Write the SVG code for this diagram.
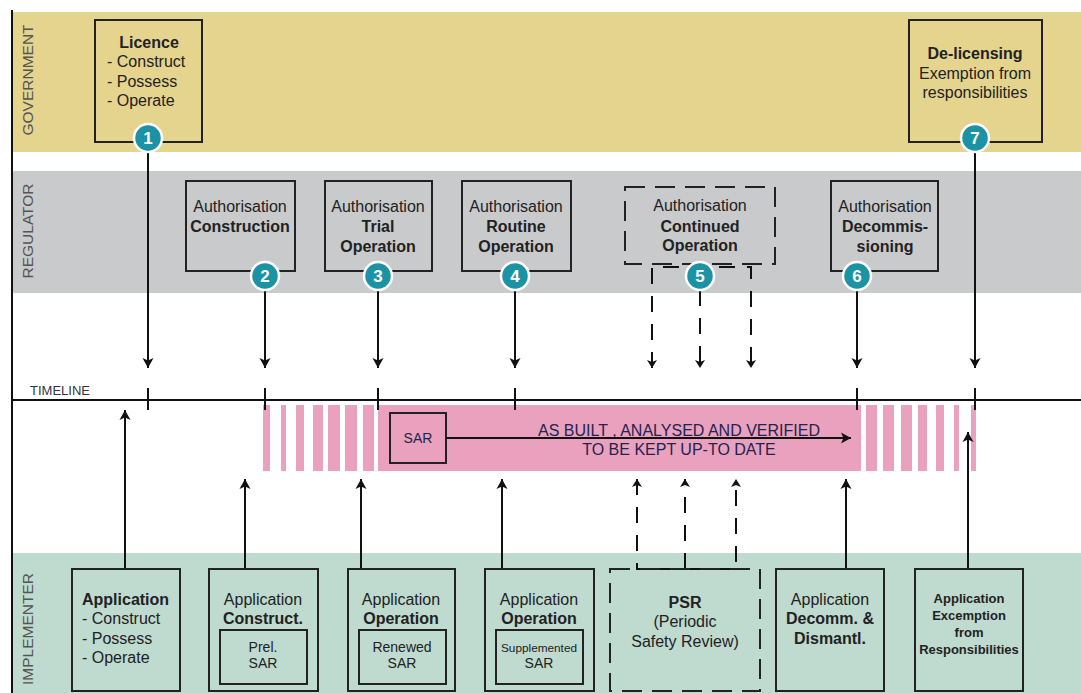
<svg xmlns="http://www.w3.org/2000/svg" width="1081" height="693" viewBox="0 0 1081 693">
<style>
text{font-family:"Liberation Sans",Arial,sans-serif;fill:#222;}
.t{font-size:16px;}
.b{font-size:16px;font-weight:bold;}
.m{text-anchor:middle;}
.lane{font-size:15.5px;fill:#555;text-anchor:middle;}
.box{fill:none;stroke:#222;stroke-width:2;}
.dbox{fill:none;stroke:#222;stroke-width:2;stroke-dasharray:20 10;}
.ln{stroke:#111;stroke-width:2;fill:none;}
.dl{stroke:#111;stroke-width:2;fill:none;stroke-dasharray:16 12;}
.num{font-size:17px;font-weight:bold;fill:#fff;text-anchor:middle;}
.cir{fill:#1b93a4;stroke:#fff;stroke-width:2.5;}
.pk{fill:#e9a1bd;}
.pt{font-size:16px;fill:#232350;text-anchor:middle;}
</style>
<defs>
<marker id="ah" markerUnits="userSpaceOnUse" viewBox="0 0 10 12" refX="10" refY="6" markerWidth="10" markerHeight="12" orient="auto">
<path d="M0,0.5 L10,6 L0,11.5 L2.5,6 z" fill="#111"/>
</marker>
</defs>

<g id="lanes">
<rect x="12" y="12" width="1069" height="140" fill="#e4d48e"/>
<rect x="12" y="171" width="1069" height="122" fill="#c9cacc"/>
<rect x="12" y="553" width="1069" height="140" fill="#bfdacf"/>
<line x1="12" y1="10" x2="12" y2="693" stroke="#111" stroke-width="2"/>
<text class="lane" transform="translate(33,80) rotate(-90)">GOVERNMENT</text>
<text class="lane" transform="translate(33,231) rotate(-90)">REGULATOR</text>
<text class="lane" transform="translate(33,629) rotate(-90)">IMPLEMENTER</text>
</g>

<g id="sar-band">
<rect class="pk" x="263" y="405" width="7" height="66"/>
<rect class="pk" x="281" y="405" width="5" height="66"/>
<rect class="pk" x="296" y="405" width="8" height="66"/>
<rect class="pk" x="313" y="405" width="10" height="66"/>
<rect class="pk" x="328" y="405" width="12" height="66"/>
<rect class="pk" x="345" y="405" width="12" height="66"/>
<rect class="pk" x="363" y="405" width="11" height="66"/>
<rect class="pk" x="378" y="405" width="483" height="66"/>
<rect class="pk" x="866" y="405" width="11" height="66"/>
<rect class="pk" x="883" y="405" width="11" height="66"/>
<rect class="pk" x="901" y="405" width="11" height="66"/>
<rect class="pk" x="918" y="405" width="9" height="66"/>
<rect class="pk" x="936" y="405" width="8" height="66"/>
<rect class="pk" x="954" y="405" width="5" height="66"/>
<rect class="pk" x="971" y="405" width="5" height="66"/>
<g id="sar">
<rect class="box" x="390" y="413" width="56" height="50"/>
<text x="418" y="443" font-size="14" text-anchor="middle" style="fill:#232350">SAR</text>
</g>
<text class="pt" x="679" y="436">AS BUILT , ANALYSED AND VERIFIED</text>
<text class="pt" x="679" y="455">TO BE KEPT UP-TO DATE</text>
</g>

<g id="timeline">
<line x1="12" y1="400" x2="1081" y2="400" stroke="#111" stroke-width="2"/>
<text x="30" y="395" font-size="12" textLength="60" lengthAdjust="spacingAndGlyphs" style="fill:#334">TIMELINE</text>
</g>

<g id="connectors">
<line class="ln" x1="446" y1="438" x2="851" y2="438" marker-end="url(#ah)"/>
<line class="ln" x1="148" y1="153" x2="148" y2="368" marker-end="url(#ah)"/>
<line class="ln" x1="265" y1="290" x2="265" y2="368" marker-end="url(#ah)"/>
<line class="ln" x1="378" y1="290" x2="378" y2="368" marker-end="url(#ah)"/>
<line class="ln" x1="515" y1="290" x2="515" y2="368" marker-end="url(#ah)"/>
<path class="dl" d="M652,368 V267 H751 V368"/>
<line class="dl" x1="700" y1="290" x2="700" y2="368"/>
<path d="M647,360 L652,368 L657,360 L652,362 z" fill="#111"/>
<path d="M695,360 L700,368 L705,360 L700,362 z" fill="#111"/>
<path d="M746,360 L751,368 L756,360 L751,362 z" fill="#111"/>
<line class="ln" x1="857" y1="290" x2="857" y2="368" marker-end="url(#ah)"/>
<line class="ln" x1="975" y1="153" x2="975" y2="368" marker-end="url(#ah)"/>
<line class="ln" x1="148" y1="388" x2="148" y2="410"/>
<line class="ln" x1="265" y1="388" x2="265" y2="410"/>
<line class="ln" x1="378" y1="388" x2="378" y2="410"/>
<line class="ln" x1="515" y1="388" x2="515" y2="410"/>
<line class="ln" x1="857" y1="388" x2="857" y2="410"/>
<line class="ln" x1="975" y1="388" x2="975" y2="410"/>
<line class="ln" x1="125" y1="569" x2="125" y2="410" marker-end="url(#ah)"/>
<line class="ln" x1="245" y1="569" x2="245" y2="479" marker-end="url(#ah)"/>
<line class="ln" x1="361" y1="569" x2="361" y2="479" marker-end="url(#ah)"/>
<line class="ln" x1="502" y1="569" x2="502" y2="479" marker-end="url(#ah)"/>
<path class="dl" d="M637,479 V569 H736 V479"/>
<line class="dl" x1="685" y1="569" x2="685" y2="479"/>
<path d="M632,487 L637,479 L642,487 L637,485 z" fill="#111"/>
<path d="M680,487 L685,479 L690,487 L685,485 z" fill="#111"/>
<path d="M731,487 L736,479 L741,487 L736,485 z" fill="#111"/>
<line class="ln" x1="846" y1="569" x2="846" y2="479" marker-end="url(#ah)"/>
<line class="ln" x1="968" y1="569" x2="968" y2="432" marker-end="url(#ah)"/>
</g>

<g id="licence">
<rect class="box" x="95" y="20" width="107" height="122"/>
<text class="b m" x="149" y="48">Licence</text>
<text class="t" x="107" y="67">- Construct</text>
<text class="t" x="107" y="87">- Possess</text>
<text class="t" x="107" y="106">- Operate</text>
<circle class="cir" cx="148" cy="138" r="14"/>
<text class="num" x="148" y="144">1</text>
</g>

<g id="delicensing">
<rect class="box" x="909" y="20" width="133" height="122"/>
<text class="b m" x="975" y="59">De-licensing</text>
<text class="t m" x="975" y="79">Exemption from</text>
<text class="t m" x="975" y="98">responsibilities</text>
<circle class="cir" cx="975" cy="138" r="14"/>
<text class="num" x="975" y="144">7</text>
</g>

<g id="auth-construction">
<rect class="box" x="186" y="181" width="109" height="90"/>
<text class="t m" x="240" y="212">Authorisation</text>
<text class="b m" x="240" y="232">Construction</text>
<circle class="cir" cx="265" cy="276" r="14"/>
<text class="num" x="265" y="282">2</text>
</g>

<g id="auth-trial">
<rect class="box" x="325" y="181" width="107" height="90"/>
<text class="t m" x="378" y="212">Authorisation</text>
<text class="b m" x="378" y="232">Trial</text>
<text class="b m" x="378" y="252">Operation</text>
<circle class="cir" cx="378" cy="276" r="14"/>
<text class="num" x="378" y="282">3</text>
</g>

<g id="auth-routine">
<rect class="box" x="462" y="181" width="109" height="90"/>
<text class="t m" x="516" y="212">Authorisation</text>
<text class="b m" x="516" y="232">Routine</text>
<text class="b m" x="516" y="252">Operation</text>
<circle class="cir" cx="515" cy="276" r="14"/>
<text class="num" x="515" y="282">4</text>
</g>

<g id="auth-continued">
<rect class="dbox" x="625" y="187" width="150" height="77"/>
<text class="t m" x="700" y="211">Authorisation</text>
<text class="b m" x="700" y="232">Continued</text>
<text class="b m" x="700" y="251">Operation</text>
<circle class="cir" cx="700" cy="276" r="14"/>
<text class="num" x="700" y="282">5</text>
</g>

<g id="auth-decommissioning">
<rect class="box" x="831" y="181" width="107" height="90"/>
<text class="t m" x="885" y="212">Authorisation</text>
<text class="b m" x="885" y="232">Decommis-</text>
<text class="b m" x="885" y="252">sioning</text>
<circle class="cir" cx="857" cy="276" r="14"/>
<text class="num" x="857" y="282">6</text>
</g>

<g id="app-licence">
<rect class="box" x="72" y="569" width="108" height="122"/>
<text class="b" x="82" y="605">Application</text>
<text class="t" x="82" y="624">- Construct</text>
<text class="t" x="82" y="644">- Possess</text>
<text class="t" x="82" y="663">- Operate</text>
</g>

<g id="app-construct">
<rect class="box" x="209" y="569" width="109" height="122"/>
<text class="t m" x="263" y="605">Application</text>
<text class="b m" x="263" y="624">Construct.</text>
<rect class="box" x="220" y="630" width="87" height="54"/>
<text class="m" x="263" y="652" font-size="14">Prel.</text>
<text class="m" x="263" y="668" font-size="14">SAR</text>
</g>

<g id="app-operation">
<rect class="box" x="348" y="569" width="107" height="122"/>
<text class="t m" x="401" y="605">Application</text>
<text class="b m" x="401" y="624">Operation</text>
<rect class="box" x="359" y="630" width="87" height="54"/>
<text class="m" x="402" y="652" font-size="14">Renewed</text>
<text class="m" x="402" y="668" font-size="14">SAR</text>
</g>

<g id="app-operation-2">
<rect class="box" x="485" y="569" width="109" height="122"/>
<text class="t m" x="539" y="605">Application</text>
<text class="b m" x="539" y="624">Operation</text>
<rect class="box" x="496" y="630" width="87" height="54"/>
<text class="m" x="539" y="652" font-size="11" textLength="76" lengthAdjust="spacingAndGlyphs">Supplemented</text>
<text class="m" x="539" y="668" font-size="14">SAR</text>
</g>

<g id="psr">
<rect class="dbox" x="610" y="569" width="150" height="122"/>
<text class="b m" x="685" y="608">PSR</text>
<text class="t m" x="685" y="627">(Periodic</text>
<text class="t m" x="685" y="647">Safety Review)</text>
</g>

<g id="app-decomm">
<rect class="box" x="776" y="569" width="108" height="122"/>
<text class="t m" x="830" y="605">Application</text>
<text class="b m" x="830" y="624">Decomm. &amp;</text>
<text class="b m" x="830" y="644">Dismantl.</text>
</g>

<g id="app-exemption">
<rect class="box" x="915" y="569" width="108" height="122"/>
<text class="m" x="969" y="603" font-size="13" font-weight="bold">Application</text>
<text class="m" x="969" y="620" font-size="13" font-weight="bold">Excemption</text>
<text class="m" x="969" y="637" font-size="13" font-weight="bold">from</text>
<text class="m" x="969" y="654" font-size="13" font-weight="bold">Responsibilities</text>
</g>
</svg>
